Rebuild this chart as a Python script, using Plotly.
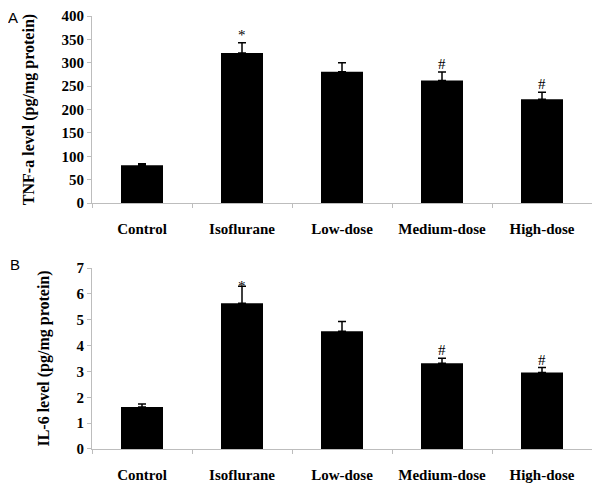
import plotly.graph_objects as go

categories = ["Control", "Isoflurane", "Low-dose", "Medium-dose", "High-dose"]
tnf_values = [81, 321, 281, 262, 222]
tnf_errors = [3, 22, 19, 18, 15]
il6_values = [1.62, 5.64, 4.55, 3.32, 2.96]
il6_errors = [0.12, 0.65, 0.38, 0.19, 0.19]
tnf_marks = ["", "*", "", "#", "#"]
il6_marks = ["", "*", "", "#", "#"]

serif = "Liberation Serif"
axis_col = "#bdbdbd"

fig = go.Figure()
fig.add_trace(go.Bar(
    x=categories, y=tnf_values, width=0.42, marker=dict(color="black", line=dict(width=0)),
    error_y=dict(type="data", array=tnf_errors, symmetric=False,
                 color="black", thickness=1.5, width=4),
    xaxis="x", yaxis="y", showlegend=False))
fig.add_trace(go.Bar(
    x=categories, y=il6_values, width=0.42, marker=dict(color="black", line=dict(width=0)),
    error_y=dict(type="data", array=il6_errors, symmetric=False,
                 color="black", thickness=1.5, width=4),
    xaxis="x2", yaxis="y2", showlegend=False))

annotations = []
for c, v, e, m in zip(categories, tnf_values, tnf_errors, tnf_marks):
    if m:
        annotations.append(dict(x=c, y=v + e, xref="x", yref="y", text=m, showarrow=False,
                                yanchor="bottom", yshift=-2,
                                font=dict(family=serif, size=15, color="black")))
for c, v, e, m in zip(categories, il6_values, il6_errors, il6_marks):
    if m:
        annotations.append(dict(x=c, y=v + e, xref="x2", yref="y2", text=m, showarrow=False,
                                yanchor="bottom", yshift=(-10 if m == "*" else -2),
                                font=dict(family=serif, size=15, color="black")))
annotations.append(dict(x=-0.158, y=1.018, xref="paper", yref="paper", text="A", showarrow=False,
                        xanchor="center", yanchor="top", borderpad=0,
                        font=dict(family="Liberation Sans", size=15, color="black")))
annotations.append(dict(x=-0.154, y=0.427, xref="paper", yref="paper", text="B", showarrow=False,
                        xanchor="center", yanchor="middle",
                        font=dict(family="Liberation Sans", size=15, color="black")))

xcommon = dict(type="category", showline=True, linecolor=axis_col, linewidth=1,
               ticks="outside", tickson="boundaries", ticklen=4, tickcolor=axis_col,
               tickfont=dict(family=serif, size=15, color="black", weight="bold"),
               range=[-0.5, 4.5], showgrid=False, zeroline=False, ticklabelstandoff=12,
               automargin=False)
ycommon = dict(showline=True, linecolor=axis_col, linewidth=1, ticks="outside", ticklen=4,
               tickcolor=axis_col, showgrid=False, zeroline=False, automargin=False,
               tickfont=dict(family=serif, size=15, color="black", weight="bold"),
               title_font=dict(family=serif, size=16, color="black", weight="bold"),
               title_standoff=22)

fig.update_layout(
    width=592, height=481, plot_bgcolor="white", paper_bgcolor="white",
    margin=dict(l=84, r=8, t=8, b=40, autoexpand=False),
    xaxis=dict(**xcommon, anchor="y", domain=[0, 1]),
    yaxis=dict(**ycommon, domain=[0.568, 1], range=[0, 400], dtick=50,
               title_text="TNF-a level (pg/mg protein)"),
    xaxis2=dict(**xcommon, anchor="y2", domain=[0, 1]),
    yaxis2=dict(**ycommon, domain=[0, 0.418], range=[0, 7], dtick=1,
                title_text="IL-6 level (pg/mg protein)"),
    annotations=annotations,
    bargap=0.58,
)

fig.write_html("out.html")
